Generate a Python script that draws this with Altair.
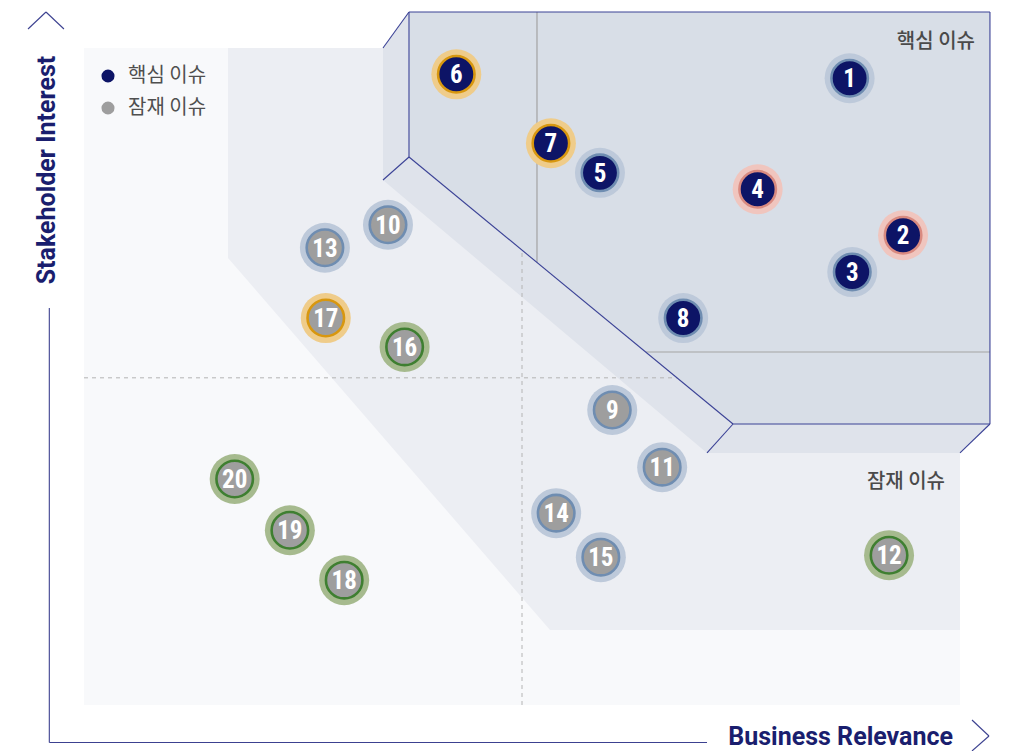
import altair as alt
import pandas as pd

# ---------------- data (matrix units: 0-10 on both axes) ----------------
issue_no = [str(i) for i in range(1, 21)]
business = [8.74, 9.35, 8.77, 7.69, 5.89, 4.25, 5.33, 6.84, 6.03, 3.47,
            6.60, 9.19, 2.75, 5.39, 5.90, 3.66, 2.76, 2.97, 2.35, 1.72]
stakeholder = [9.54, 7.15, 6.59, 7.85, 8.10, 9.60, 8.55, 5.89, 4.49, 7.31,
               3.62, 2.28, 6.96, 2.92, 2.25, 5.45, 5.89, 1.90, 2.66, 3.44]
issue_type = ["핵심 이슈"] * 8 + ["잠재 이슈"] * 12
ring = ["blue", "red", "blue", "red", "blue", "gold", "gold", "blue", "blue", "blue",
        "blue", "green", "blue", "blue", "blue", "green", "gold", "green", "green", "green"]

# background regions
bg_x, bg_x2, bg_y, bg_y2 = [0], [10], [0], [10]
pot_x = [1.644, 5.320, 10.0]
pot_top = [10.0, 10.0, 10.0]
pot_bot = [6.804, 1.142, 1.142]
back_x = [3.413, 3.710, 7.112, 10.0, 10.342]
back_top = [10.0, 10.548, 10.548, 10.548, 10.548]
back_bot = [7.991, 7.657, 3.836, 3.836, 4.277]
face_x = [3.710, 7.409, 10.342]
face_top = [10.548, 10.548, 10.548]
face_bot = [8.341, 4.277, 4.277]

# outline edges of the core box
edge_x = [3.710, 3.710, 10.342, 10.342, 7.409, 3.710, 3.710, 7.409, 10.342]
edge_y = [8.341, 10.548, 10.548, 4.277, 4.277, 10.548, 8.341, 4.277, 4.277]
edge_x2 = [3.710, 10.342, 10.342, 7.409, 3.710, 3.413, 3.413, 7.112, 10.0]
edge_y2 = [10.548, 10.548, 4.277, 4.277, 8.341, 10.0, 7.991, 3.836, 3.836]

# grey quadrant lines inside the core box
grey_x = [5.171, 6.416]
grey_y = [10.548, 5.373]
grey_x2 = [5.171, 10.342]
grey_y2 = [6.743, 5.373]

# dashed centre lines
dash_x = [5.0, 0.0]
dash_y = [0.0, 4.98]
dash_x2 = [5.0, 10.0]
dash_y2 = [10.0, 4.98]

# axis lines and arrow heads
axl_x = [-0.396, -0.396, -0.639, -0.434, 10.137, 10.331]
axl_y = [6.043, -0.571, 10.289, 10.548, -0.228, -0.472]
axl_x2 = [-0.396, 7.112, -0.434, -0.229, 10.331, 10.137]
axl_y2 = [-0.571, -0.571, 10.548, 10.289, -0.472, -0.700]

# texts
region_label = ["핵심 이슈", "잠재 이슈"]
region_x = [10.171, 9.829]
region_y = [10.091, 3.394]
legend_label = ["핵심 이슈", "잠재 이슈"]
legend_x = [0.274, 0.274]
legend_y = [9.574, 9.087]
xtitle, xtitle_x, xtitle_y = ["Business Relevance"], [9.920], [-0.487]
ytitle, ytitle_x, ytitle_y = ["Stakeholder Interest"], [-0.419], [8.143]

# ---------------- scales ----------------
xs = alt.Scale(domain=[-0.8676, 10.468], nice=False, zero=False)
ys = alt.Scale(domain=[-0.7002, 10.609], nice=False, zero=False)


def X(f):
    return alt.X(f, type="quantitative", scale=xs, axis=None)


def Y(f):
    return alt.Y(f, type="quantitative", scale=ys, axis=None)


NAVY = "#0d1466"
TITLE = "#1a1e6e"
type_scale = alt.Scale(domain=["핵심 이슈", "잠재 이슈"], range=[NAVY, "#9e9e9e"])

bg = alt.Chart(pd.DataFrame({"x": bg_x, "x2": bg_x2, "y": bg_y, "y2": bg_y2})).mark_rect(
    color="#f8f9fb").encode(x=X("x"), x2="x2", y=Y("y"), y2="y2")

pot = alt.Chart(pd.DataFrame({"x": pot_x, "t": pot_top, "b": pot_bot})).mark_area(
    color="#eceef3").encode(x=X("x"), y=Y("t"), y2="b")

back = alt.Chart(pd.DataFrame({"x": back_x, "t": back_top, "b": back_bot})).mark_area(
    color="#dfe3eb").encode(x=X("x"), y=Y("t"), y2="b")

dashes = alt.Chart(pd.DataFrame({"x": dash_x, "y": dash_y, "x2": dash_x2, "y2": dash_y2})).mark_rule(
    color="#b4b4b4", strokeDash=[4, 4], strokeWidth=1).encode(x=X("x"), y=Y("y"), x2="x2", y2="y2")

face = alt.Chart(pd.DataFrame({"x": face_x, "t": face_top, "b": face_bot})).mark_area(
    color="#d8dee7").encode(x=X("x"), y=Y("t"), y2="b")

greys = alt.Chart(pd.DataFrame({"x": grey_x, "y": grey_y, "x2": grey_x2, "y2": grey_y2})).mark_rule(
    color="#a3a3a3", strokeWidth=1.2).encode(x=X("x"), y=Y("y"), x2="x2", y2="y2")

edges = alt.Chart(pd.DataFrame({"x": edge_x, "y": edge_y, "x2": edge_x2, "y2": edge_y2})).mark_rule(
    color="#3b4296", strokeWidth=1.1).encode(x=X("x"), y=Y("y"), x2="x2", y2="y2")

axes = alt.Chart(pd.DataFrame({"x": axl_x, "y": axl_y, "x2": axl_x2, "y2": axl_y2})).mark_rule(
    color="#3c4190", strokeWidth=1.1).encode(x=X("x"), y=Y("y"), x2="x2", y2="y2")

issues = pd.DataFrame({"no": issue_no, "bx": business, "sy": stakeholder,
                       "type": issue_type, "ring": ring})

ring_dom = ["gold", "red", "blue", "green"]
halo = alt.Chart(issues).mark_circle(size=2500, opacity=1).encode(
    x=X("bx"), y=Y("sy"),
    color=alt.Color("ring:N", scale=alt.Scale(domain=ring_dom,
                    range=["#efcc8a", "#f0c5be", "#bdc9da", "#a6ba8e"]), legend=None))

core = alt.Chart(issues).mark_circle(size=1330, opacity=1, strokeWidth=2.6).encode(
    x=X("bx"), y=Y("sy"),
    fill=alt.Fill("type:N", scale=type_scale, legend=None),
    stroke=alt.Stroke("ring:N", scale=alt.Scale(domain=ring_dom,
                      range=["#d8970f", "#d98a80", "#6f8db1", "#3f7f31"]), legend=None))

nums = alt.Chart(issues).mark_text(
    font="Liberation Sans Narrow, Roboto Condensed, Roboto", fontWeight="bold", fontSize=25,
    color="white", baseline="middle", align="center", dy=1).encode(
    x=X("bx"), y=Y("sy"), text="no:N")

regions = alt.Chart(pd.DataFrame({"t": region_label, "x": region_x, "y": region_y})).mark_text(
    font="Noto Sans CJK KR", fontSize=20, fontWeight=500, color="#4a4a4a", align="right",
    baseline="middle").encode(x=X("x"), y=Y("y"), text="t:N")

leg_dots = alt.Chart(pd.DataFrame({"t": legend_label, "x": legend_x, "y": legend_y})).mark_circle(
    size=170, opacity=1).encode(
    x=X("x"), y=Y("y"), fill=alt.Fill("t:N", scale=type_scale, legend=None))

leg_text = alt.Chart(pd.DataFrame({"t": legend_label, "x": legend_x, "y": legend_y})).mark_text(
    font="Noto Sans CJK KR", fontSize=20, color="#4f4f4f", align="left", baseline="middle", dx=20).encode(
    x=X("x"), y=Y("y"), text="t:N")

xt = alt.Chart(pd.DataFrame({"t": xtitle, "x": xtitle_x, "y": xtitle_y})).mark_text(
    font="Roboto", fontWeight="bold", fontSize=25, color=TITLE, baseline="middle", align="right").encode(
    x=X("x"), y=Y("y"), text="t:N")

yt = alt.Chart(pd.DataFrame({"t": ytitle, "x": ytitle_x, "y": ytitle_y})).mark_text(
    font="Roboto", fontWeight="bold", fontSize=25, color=TITLE, baseline="middle", align="center",
    angle=270).encode(x=X("x"), y=Y("y"), text="t:N")

chart = alt.layer(bg, pot, back, dashes, face, greys, edges, axes, halo, core, nums,
                  regions, leg_dots, leg_text, xt, yt).properties(
    width=993, height=743, autosize=alt.AutoSizeParams(type="none"), padding=0,
    background="white").configure_view(stroke=None)

chart.save("out.html", embed_options={"renderer": "svg", "actions": False})
